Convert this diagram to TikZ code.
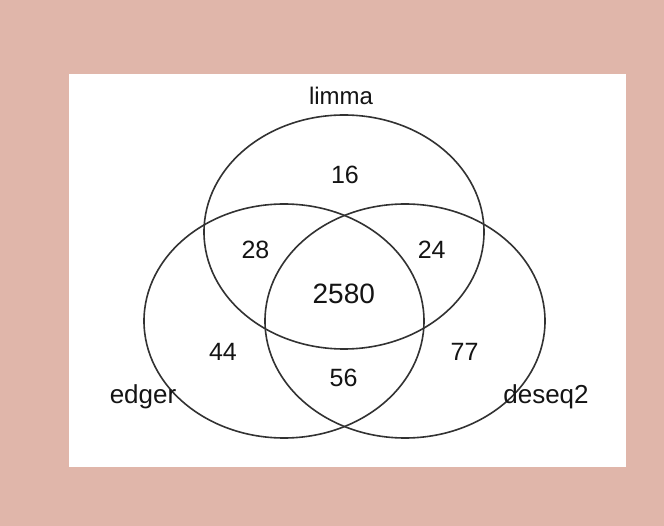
\documentclass[tikz,border=0pt]{standalone}
\usepackage{fontspec}
\setmainfont{Liberation Sans}
\definecolor{pinkbg}{RGB}{224,182,170}
\definecolor{linegray}{RGB}{50,50,50}
\begin{document}
\begin{tikzpicture}[x=1pt,y=-1pt,
  setring/.style={draw=linegray,line width=1.6pt},
  numtxt/.style={anchor=base,inner sep=0pt,text=black!92,font=\fontsize{25}{30}\selectfont},
  bigtxt/.style={anchor=base,inner sep=0pt,text=black!92,font=\fontsize{28}{33}\selectfont},
  cattxt/.style={anchor=base,inner sep=0pt,text=black!92,font=\fontsize{26}{31}\selectfont}]
\fill[pinkbg] (0,0) rectangle (664,526);
\useasboundingbox (0,0) rectangle (664,526);
\fill[white] (68.5,74) rectangle (625.5,467);
% sets
\draw[setring] (344,232) ellipse [x radius=140pt, y radius=117pt];
\draw[setring] (284,321) ellipse [x radius=140pt, y radius=117pt];
\draw[setring] (405,321) ellipse [x radius=140pt, y radius=117pt];
% category labels
\node[cattxt,font=\fontsize{24}{29}\selectfont] (limma) at (341,105) {limma};
\node[cattxt] (edger) at (143,403) {edger};
\node[cattxt] (deseq) at (546,403) {deseq2};
% counts
\node[numtxt] (n16) at (345,184) {16};
\node[numtxt] (n28) at (255.5,259) {28};
\node[numtxt] (n24) at (431.7,259) {24};
\node[bigtxt] (n2580) at (343.8,304) {2580};
\node[numtxt] (n44) at (223,360.5) {44};
\node[numtxt] (n77) at (464.5,360.5) {77};
\node[numtxt] (n56) at (343.5,386.5) {56};
\end{tikzpicture}
\end{document}
